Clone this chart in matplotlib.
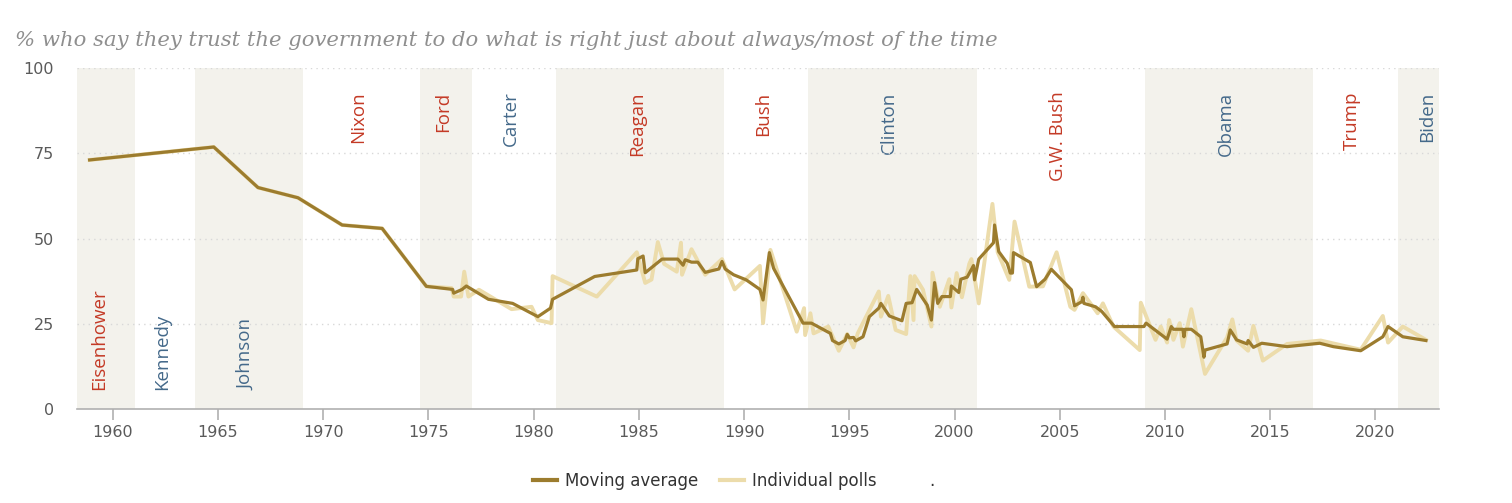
import matplotlib
matplotlib.use("Agg")
import matplotlib.pyplot as plt
from matplotlib.lines import Line2D

# trust in government, % saying always/most of the time
ma_year = [1958.9, 1964.8, 1966.9, 1968.8, 1970.9, 1972.8, 1974.9, 1976.15, 1976.2, 1976.6,
           1976.8, 1977.85, 1979.0, 1980.2, 1980.8, 1980.9, 1982.9, 1984.9, 1984.95, 1985.2,
           1985.3, 1986.1, 1986.85, 1987.1, 1987.2, 1987.5, 1987.8, 1988.15, 1988.8, 1988.95,
           1989.1, 1989.5, 1990.1, 1990.75, 1990.9, 1991.2, 1991.4, 1992.8, 1993.2, 1994.1,
           1994.2, 1994.5, 1994.8, 1994.9, 1995.0, 1995.2, 1995.3, 1995.65, 1995.95, 1996.4,
           1996.5, 1996.9, 1997.5, 1997.7, 1997.98, 1998.2, 1998.7, 1998.9, 1999.05, 1999.2,
           1999.4, 1999.8, 1999.85, 2000.2, 2000.3, 2000.6, 2000.9, 2000.95, 2001.15, 2001.85,
           2001.9, 2002.1, 2002.5, 2002.65, 2002.75, 2002.8, 2003.6, 2003.9, 2004.3, 2004.6,
           2005.55, 2005.7, 2006.05, 2006.1, 2006.15, 2006.7, 2007.0, 2007.6, 2009.0, 2009.1,
           2010.1, 2010.3, 2010.4, 2010.85, 2010.9, 2010.95, 2011.25, 2011.7, 2011.85, 2011.9,
           2012.95, 2013.1, 2013.4, 2013.9, 2013.95, 2014.2, 2014.6, 2015.8, 2017.35, 2018.0,
           2019.3, 2020.35, 2020.6, 2021.3, 2022.4]
ma_value = [73.1, 76.9, 65.0, 62.0, 54.0, 53.0, 36.0, 35.1, 34.0, 35.1,
            36.1, 32.2, 31.0, 27.1, 29.6, 32.2, 38.9, 40.8, 44.1, 44.9,
            40.0, 44.0, 44.0, 42.2, 43.8, 43.1, 43.1, 40.1, 41.1, 43.3,
            41.1, 39.4, 37.9, 35.1, 32.0, 45.9, 41.3, 25.2, 25.2, 22.2,
            20.1, 19.1, 20.1, 21.9, 20.9, 21.0, 20.0, 21.2, 27.1, 29.6,
            31.0, 27.3, 25.9, 31.0, 31.2, 35.1, 30.5, 26.1, 37.1, 31.0,
            33.0, 33.0, 36.1, 34.2, 38.1, 38.7, 42.1, 37.9, 44.0, 48.8,
            54.0, 46.2, 42.8, 39.9, 39.9, 45.9, 43.0, 35.9, 38.1, 41.0,
            35.0, 30.3, 31.5, 32.8, 31.0, 30.0, 28.6, 24.2, 24.2, 25.2,
            20.5, 24.2, 23.4, 23.4, 21.2, 23.4, 23.4, 21.2, 15.2, 17.3,
            19.1, 23.2, 20.3, 19.1, 20.1, 18.1, 19.3, 18.3, 19.3, 18.3,
            17.1, 21.2, 24.2, 21.2, 20.1]

poll_year = [1958.9, 1964.8, 1966.9, 1968.8, 1970.9, 1972.8, 1974.9, 1976.1, 1976.2, 1976.55,
             1976.7, 1976.9, 1977.4, 1978.95, 1979.9, 1980.2, 1980.85, 1980.9, 1983.0, 1984.9,
             1985.3, 1985.6, 1985.9, 1986.2, 1986.8, 1987.0, 1987.05, 1987.5, 1988.15, 1988.95,
             1989.55, 1990.75, 1990.9, 1991.25, 1992.5, 1992.85, 1992.9, 1993.15, 1993.3, 1994.0,
             1994.5, 1994.9, 1995.2, 1995.4, 1996.4, 1996.5, 1996.85, 1997.2, 1997.7, 1997.9,
             1998.05, 1998.1, 1998.5, 1998.9, 1998.95, 1999.3, 1999.75, 1999.85, 2000.1, 2000.35,
             2000.7, 2000.8, 2001.15, 2001.8, 2002.05, 2002.6, 2002.85, 2003.55, 2004.2, 2004.85,
             2005.5, 2005.7, 2006.1, 2006.8, 2007.05, 2007.55, 2008.8, 2008.85, 2009.55, 2009.8,
             2010.1, 2010.2, 2010.4, 2010.7, 2010.85, 2011.25, 2011.9, 2012.95, 2013.2, 2013.4,
             2013.95, 2014.2, 2014.65, 2015.8, 2017.4, 2019.3, 2020.35, 2020.6, 2021.3, 2022.4]
poll_value = [73.1, 76.9, 65.0, 62.0, 54.0, 53.0, 36.0, 35.5, 33.0, 33.0,
              40.3, 33.0, 35.0, 29.3, 30.0, 26.1, 25.2, 39.0, 33.0, 46.0,
              37.0, 38.0, 49.0, 42.6, 40.3, 48.8, 39.4, 46.9, 39.4, 44.0,
              35.1, 42.0, 25.2, 46.7, 22.7, 29.6, 21.7, 28.1, 22.2, 24.2,
              17.1, 22.0, 18.1, 22.2, 34.5, 27.1, 33.2, 23.2, 22.0, 39.0,
              26.1, 39.0, 35.0, 24.2, 40.0, 30.0, 38.1, 29.8, 39.9, 32.8,
              42.6, 44.0, 31.0, 60.2, 46.0, 37.9, 55.0, 35.9, 36.0, 46.0,
              30.0, 29.1, 34.0, 28.1, 31.0, 24.2, 17.3, 31.2, 20.3, 24.2,
              19.5, 26.1, 20.3, 25.2, 18.3, 29.3, 10.3, 21.0, 26.3, 20.1,
              17.1, 24.4, 14.2, 19.1, 20.1, 17.4, 27.3, 19.5, 24.2, 20.3]

presidents = ["Eisenhower", "Kennedy", "Johnson", "Nixon", "Ford", "Carter", "Reagan",
              "Bush", "Clinton", "G.W. Bush", "Obama", "Trump", "Biden"]
term_start = [1958.3, 1961.05, 1963.9, 1969.05, 1974.6, 1977.05, 1981.05,
              1989.05, 1993.05, 2001.05, 2009.05, 2017.05, 2021.05]
party = ["R", "D", "D", "R", "R", "D", "R", "R", "D", "R", "D", "R", "D"]

x_ticks = [1960, 1965, 1970, 1975, 1980, 1985, 1990, 1995, 2000, 2005, 2010, 2015, 2020]
y_ticks = [0, 25, 50, 75, 100]

X_MIN, X_MAX = 1958.3, 2023.02
MA_COLOR = "#9c7c2e"
POLL_COLOR = "#ecdcab"
BAND_COLOR = "#f3f2ec"
PARTY_COLOR = {"R": "#c43a26", "D": "#44698a"}

fig = plt.figure(figsize=(15.12, 5.03), dpi=100)
ax = fig.add_axes([77 / 1512, 1 - 409 / 503, (1439 - 77) / 1512, (409 - 68.3) / 503])
ax.set_xlim(X_MIN, X_MAX)
ax.set_ylim(0, 100)

# presidency bands and name labels
term_end = term_start[1:] + [X_MAX]
for i, name in enumerate(presidents):
    if i % 2 == 0:
        ax.axvspan(term_start[i], term_end[i], color=BAND_COLOR, lw=0, zorder=0)
    mid = (term_start[i] + term_end[i]) / 2 - 0.15
    if i == 0:
        mid = 1959.35
    if i == len(presidents) - 1:
        mid = 2022.45
    if i < 3:
        ax.text(mid, 5.5, name, rotation=90, ha="center", va="bottom",
                color=PARTY_COLOR[party[i]], fontsize=13.5, family="Open Sans", zorder=1)
    else:
        ax.text(mid, 93.2, name, rotation=90, ha="center", va="top",
                color=PARTY_COLOR[party[i]], fontsize=13.5, family="Open Sans", zorder=1)

# dotted gridlines
for yv in y_ticks[1:]:
    ax.axhline(yv, color="#d8d8d8", lw=1, ls=(0, (1, 3)), zorder=1)

ax.plot(poll_year, poll_value, color=POLL_COLOR, lw=2.8, solid_joinstyle="round", zorder=2)
ax.plot(ma_year, ma_value, color=MA_COLOR, lw=2.3, solid_joinstyle="round", zorder=3)

for s in ["top", "right", "left"]:
    ax.spines[s].set_visible(False)
ax.spines["bottom"].set_color("#b0b0b0")
ax.spines["bottom"].set_linewidth(1.2)

ax.set_xticks(x_ticks)
ax.set_xticklabels([str(t) for t in x_ticks])
ax.tick_params(axis="x", length=8, width=1.2, color="#b0b0b0", labelsize=11.5, pad=3.5)
ax.set_yticks(y_ticks)
ax.set_yticklabels([str(t) for t in y_ticks])
ax.tick_params(axis="y", length=0, labelsize=11.5, pad=16.5)
for lab in ax.get_xticklabels() + ax.get_yticklabels():
    lab.set_color("#5a5a5a")

fig.text(15 / 1512, 1 - 46 / 503,
         "% who say they trust the government to do what is right just about always/most of the time",
         family="DejaVu Serif", style="italic", fontsize=15.2, color="#8f8f8f", va="baseline")

handles = [Line2D([], [], color=MA_COLOR, lw=3),
           Line2D([], [], color=POLL_COLOR, lw=3),
           Line2D([], [], color="none", lw=3)]
fig.legend(handles, ["Moving average", "Individual polls", "."], ncol=3,
           loc="center", bbox_to_anchor=(734 / 1512, 1 - 481 / 503), frameon=False,
           fontsize=12, handlelength=1.45, handletextpad=0.48, columnspacing=1.26,
           labelcolor="#333333")

fig.savefig("out.png", dpi=100)
